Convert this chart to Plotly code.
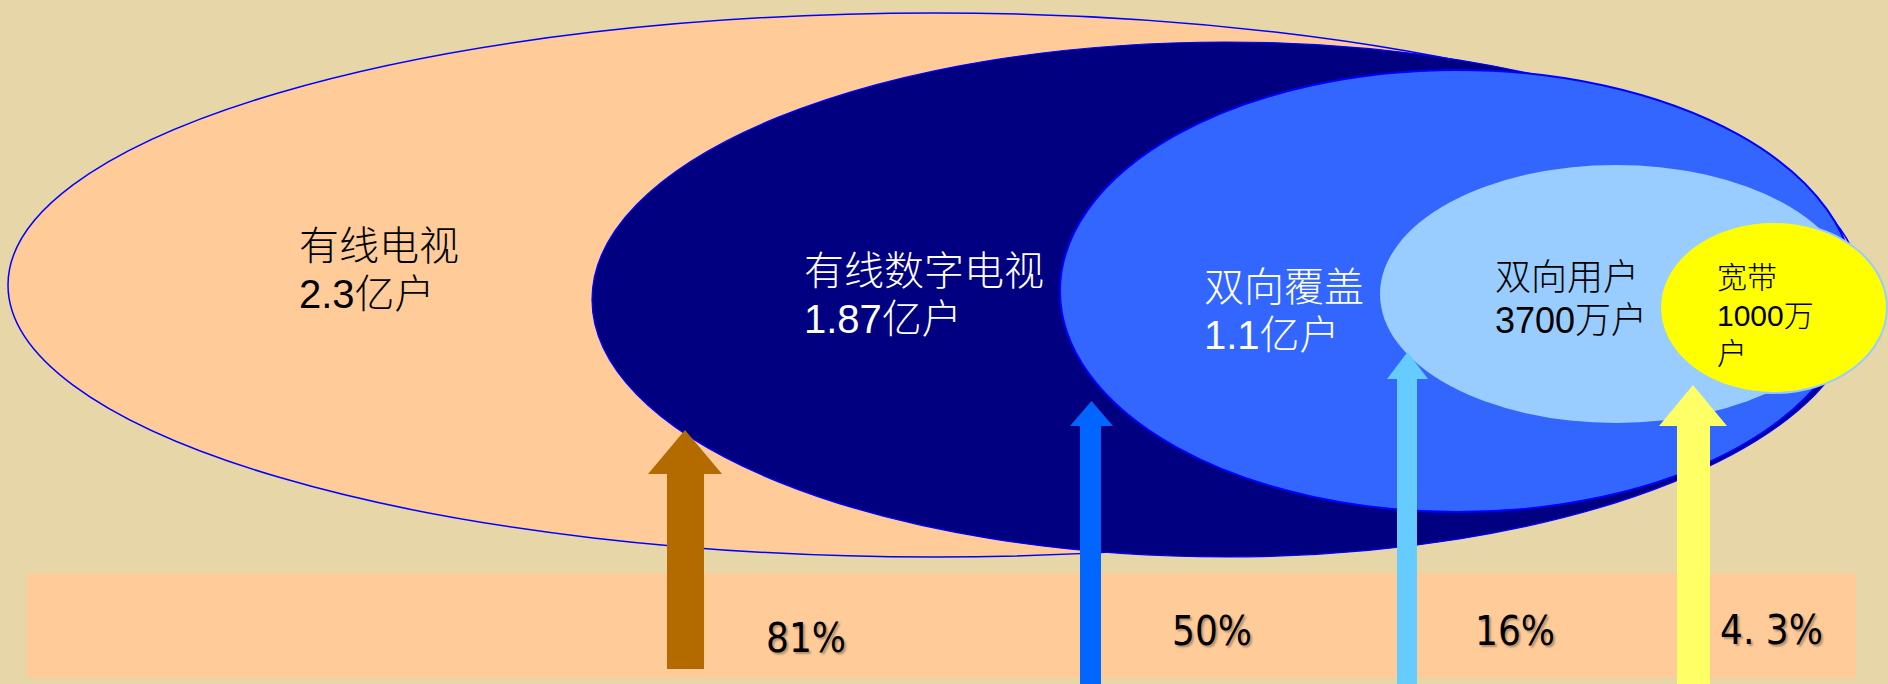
import plotly.graph_objects as go

# ---------------- data ----------------
segments = ["有线电视", "有线数字电视", "双向覆盖", "双向用户", "宽带"]
households = ["2.3亿户", "1.87亿户", "1.1亿户", "3700万户", "1000万户"]
penetration = ["81%", "50%", "16%", "4. 3%"]

# ---------------- layout spec (pixel space) ----------------
W, H = 1888, 684
BG = "#E7D6A7"

ellipse_boxes = [(8, 13, 1860, 557), (592, 42, 1860, 557), (1060, 70, 1855, 512),
                 (1380, 165, 1852, 423), (1660, 222, 1887, 393)]
ellipse_fill = ["#FFCC99", "#000080", "#3366FF", "#99CCFF", "#FFFF00"]
ellipse_line = ["#0000FF", "#0000FF", "#0000FF", "#99CCFF", "#99CCFF"]
ellipse_lw = [1.5, 1.2, 2, 0, 2]

label_x = [297, 802, 1202, 1493, 1715]
label_y = [[246, 294], [271, 319], [287, 335], [277, 320], [277, 315, 353]]
label_size = [40, 40, 40, 36, 30]
label_color = ["black", "white", "white", "black", "black"]

band = (27, 573, 1856, 678)
band_color = "#FFCC99"

pct_x = [806, 1212, 1515, 1771]
pct_y = [638, 631, 631, 630]

# arrows: color, shaft x0, shaft x1, bottom, head base y, head x0, head x1, tip y
arrow_color = ["#B36B00", "#0066FF", "#66CCFF", "#FFFF66"]
arrow_geom = [(667, 704, 669, 474, 648, 722, 430),
              (1080, 1101, 684, 426, 1070, 1113, 401),
              (1397, 1417, 684, 379, 1387, 1428, 352),
              (1677, 1710, 684, 426, 1659, 1727, 385)]

FONT = "Liberation Sans, Arial, Noto Sans CJK SC, sans-serif"
PCT_FONT = "DejaVu Sans Condensed, Liberation Sans, sans-serif"

fig = go.Figure()
fig.add_trace(go.Scatter(x=[0, W], y=[0, H], mode="markers",
                         marker=dict(opacity=0), hoverinfo="skip", showlegend=False))

shapes = []
shapes.append(dict(type="rect", xref="x", yref="y", x0=band[0], y0=band[1], x1=band[2], y1=band[3],
                   fillcolor=band_color, line=dict(width=0), layer="above"))
for (x0, y0, x1, y1), fc, lc, lw in zip(ellipse_boxes, ellipse_fill, ellipse_line, ellipse_lw):
    shapes.append(dict(type="circle", xref="x", yref="y", x0=x0, y0=y0, x1=x1, y1=y1,
                       fillcolor=fc, line=dict(color=lc, width=lw), layer="above"))
for col, (sx0, sx1, bot, base, hx0, hx1, tip) in zip(arrow_color, arrow_geom):
    cx = (hx0 + hx1) / 2
    path = (f"M{sx0},{bot} L{sx0},{base} L{hx0},{base} L{cx},{tip} "
            f"L{hx1},{base} L{sx1},{base} L{sx1},{bot} Z")
    shapes.append(dict(type="path", xref="x", yref="y", path=path,
                       fillcolor=col, line=dict(width=0), layer="above"))

annotations = []
for i, seg in enumerate(segments):
    hh = households[i]
    lines = [seg, hh] if len(label_y[i]) == 2 else [seg, hh[:-1], hh[-1:]]
    for txt, yy in zip(lines, label_y[i]):
        annotations.append(dict(x=label_x[i], y=yy, xref="x", yref="y", text=txt,
                                showarrow=False, xanchor="left", yanchor="middle",
                                font=dict(family=FONT, size=label_size[i], color=label_color[i],
                                          weight=300)))
for txt, xx, yy in zip(penetration, pct_x, pct_y):
    annotations.append(dict(x=xx, y=yy, xref="x", yref="y", text=txt, showarrow=False,
                            xanchor="center", yanchor="middle",
                            font=dict(family=PCT_FONT, size=40, color="black",
                                      shadow="2px 2px 2px rgba(0,0,0,0.3)")))

fig.update_layout(
    width=W, height=H, margin=dict(l=0, r=0, t=0, b=0),
    paper_bgcolor=BG, plot_bgcolor=BG,
    xaxis=dict(range=[0, W], visible=False, fixedrange=True),
    yaxis=dict(range=[H, 0], visible=False, fixedrange=True),
    shapes=shapes, annotations=annotations, showlegend=False,
)

fig.write_html("out.html", config={"displayModeBar": False})
